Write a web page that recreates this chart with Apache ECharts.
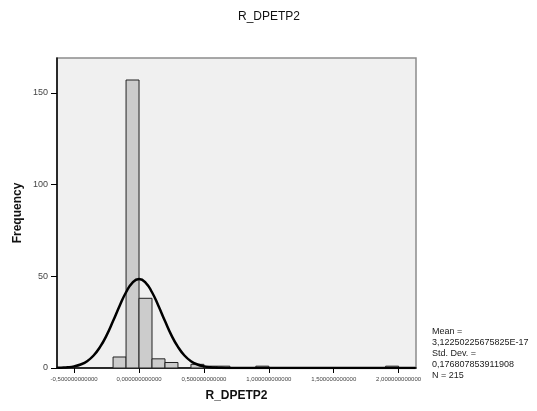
<!DOCTYPE html>
<html>
<head>
<meta charset="utf-8">
<script src="https://cdn.jsdelivr.net/npm/echarts@6/dist/echarts.min.js"></script>
<style>
  html, body { margin: 0; padding: 0; background: #fff; }
  #chart01 { width: 537px; height: 411px; }
</style>
</head>
<body>
<div id="chart01"></div>
<script>
// histogram bins (start of bin, width 0.1)
var binStart = [-0.2, -0.1, 0, 0.1, 0.2, 0.4, 0.5, 0.6, 0.9, 1.9];
var binCount = [6, 157, 38, 5, 3, 2, 1, 1, 1, 1];
var binWidth = 0.1;

// normal curve
var curveX = [-0.63, -0.6, -0.55, -0.5, -0.45, -0.4, -0.35, -0.3, -0.25, -0.2, -0.15, -0.1, -0.05, 0,
  0.05, 0.1, 0.15, 0.2, 0.25, 0.3, 0.35, 0.4, 0.45, 0.5, 0.55, 0.6, 0.7, 0.8, 1.0, 1.5, 2.13];
var curveY = [0.1, 0.2, 0.4, 0.9, 1.9, 3.7, 6.8, 11.5, 17.8, 25.6, 33.8, 41.3, 46.6, 48.5,
  46.6, 41.3, 33.8, 25.6, 17.8, 11.5, 6.8, 3.7, 1.9, 0.9, 0.4, 0.2, 0, 0, 0, 0, 0];

// axis ticks
var xTicks = [-0.5, 0, 0.5, 1, 1.5, 2];
var xTickLabels = ['-0,500000000000', '0,000000000000', '0,500000000000', '1,000000000000', '1,500000000000', '2,000000000000'];
var yTicks = [0, 50, 100, 150];

// stats text
var statLines = ['Mean =', '3,12250225675825E-17', 'Std. Dev. =', '0,176807853911908', 'N = 215'];

var font = 'Liberation Sans, Arial, sans-serif';

var barData = [];
for (var i = 0; i < binStart.length; i++) {
  barData.push([binStart[i], binStart[i] + binWidth, binCount[i]]);
}
var lineData = [];
for (var j = 0; j < curveX.length; j++) {
  lineData.push([curveX[j], curveY[j]]);
}

var statGraphics = [];
for (var k = 0; k < statLines.length; k++) {
  statGraphics.push({
    type: 'text',
    left: 432,
    top: 327 + k * 11,
    style: { text: statLines[k], font: '9px ' + font, fill: '#222' }
  });
}
statGraphics.push({
  type: 'text',
  left: 275 - 37,
  top: 11,
  style: { text: 'R_DPETP2', font: '12px ' + font, fill: '#111' }
});

var chart01 = echarts.init(document.getElementById('chart01'), null, { renderer: 'canvas' });
var option = {
  animation: false,
  backgroundColor: '#fff',
  grid: {
    left: 57,
    top: 58,
    right: 121,
    bottom: 43,
    show: true,
    backgroundColor: '#f0f0f0',
    borderColor: '#8c8c8c',
    borderWidth: 1.5
  },
  graphic: statGraphics,
  xAxis: {
    type: 'value',
    min: -0.632,
    max: 2.134,
    name: 'R_DPETP2',
    nameLocation: 'middle',
    nameGap: 22,
    nameMoveOverlap: false,
    nameTextStyle: { fontFamily: font, fontSize: 12, fontWeight: 'bold', color: '#111' },
    splitLine: { show: false },
    axisLine: { onZero: false, lineStyle: { color: '#000', width: 1.5 } },
    axisTick: { show: true, length: 5, customValues: xTicks, lineStyle: { color: '#000' } },
    axisLabel: {
      customValues: xTicks,
      margin: 8,
      fontFamily: font,
      fontSize: 6,
      color: '#444',
      formatter: function (v) {
        var idx = xTicks.indexOf(v);
        return idx >= 0 ? xTickLabels[idx] : '';
      }
    }
  },
  yAxis: {
    type: 'value',
    min: 0,
    max: 169,
    name: 'Frequency',
    nameLocation: 'middle',
    nameGap: 33,
    nameMoveOverlap: false,
    nameTextStyle: { fontFamily: font, fontSize: 12, fontWeight: 'bold', color: '#111' },
    splitLine: { show: false },
    axisLine: { show: true, onZero: false, lineStyle: { color: '#000', width: 1.5 } },
    axisTick: { show: true, length: 6, customValues: yTicks, lineStyle: { color: '#000' } },
    axisLabel: { customValues: yTicks, margin: 9, fontFamily: font, fontSize: 9, color: '#444' }
  },
  series: [
    {
      type: 'custom',
      data: barData,
      encode: { x: [0, 1], y: 2 },
      renderItem: function (params, api) {
        var p0 = api.coord([api.value(0), 0]);
        var p1 = api.coord([api.value(1), api.value(2)]);
        return {
          type: 'rect',
          shape: { x: p0[0], y: p1[1], width: p1[0] - p0[0], height: p0[1] - p1[1] },
          style: { fill: '#cccccc', stroke: '#222', lineWidth: 1 }
        };
      },
      z: 2
    },
    {
      type: 'line',
      data: lineData,
      smooth: true,
      showSymbol: false,
      lineStyle: { color: '#000', width: 2.5 },
      z: 3
    }
  ]
};
chart01.setOption(option);
</script>
</body>
</html>
